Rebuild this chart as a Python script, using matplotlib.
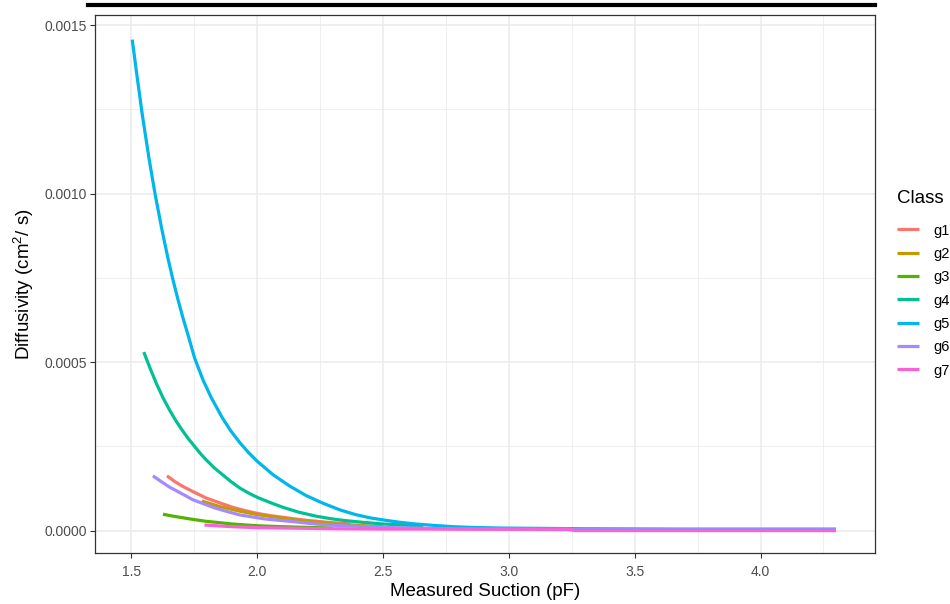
import matplotlib
matplotlib.use("Agg")
from matplotlib import pyplot as plt
from matplotlib.lines import Line2D

plt.rcParams['font.family'] = ['Liberation Sans', 'DejaVu Sans']
plt.rcParams['mathtext.fontset'] = 'custom'
plt.rcParams['mathtext.rm'] = 'Liberation Sans'
plt.rcParams['mathtext.it'] = 'Liberation Sans'

# diffusivity curves, values (y in 1e-4 cm^2/s)
g1_x = [1.641, 1.67, 1.70, 1.75, 1.797, 1.85, 1.90, 1.95, 1.996, 2.05, 2.10, 2.15, 2.195, 2.28, 2.37]
g1_y = [1.63, 1.47, 1.33, 1.14, 0.97, 0.83, 0.70, 0.60, 0.52, 0.45, 0.40, 0.35, 0.31, 0.25, 0.20]

g2_x = [1.78, 1.85, 1.93, 2.00, 2.10, 2.20, 2.30, 2.40, 2.50]
g2_y = [0.88, 0.72, 0.58, 0.48, 0.37, 0.28, 0.21, 0.16, 0.12]

g3_x = [1.625, 1.66, 1.70, 1.75, 1.797, 1.85, 1.90, 1.996, 2.10, 2.20, 2.30]
g3_y = [0.49, 0.44, 0.39, 0.33, 0.28, 0.24, 0.20, 0.15, 0.12, 0.10, 0.08]

g4_x = [1.549, 1.575, 1.60, 1.625, 1.65, 1.675, 1.70, 1.725, 1.751, 1.775, 1.80, 1.83,
        1.864, 1.895, 1.93, 1.965, 2.00, 2.05, 2.10, 2.165, 2.235, 2.29, 2.35, 2.42,
        2.50, 2.58, 2.66]
g4_y = [5.30, 4.80, 4.35, 3.95, 3.60, 3.28, 3.00, 2.74, 2.50, 2.28, 2.08, 1.86,
        1.65, 1.46, 1.27, 1.12, 0.99, 0.84, 0.70, 0.55, 0.43, 0.36, 0.30, 0.25,
        0.20, 0.17, 0.14]

g5_x = [1.503, 1.52, 1.543, 1.57, 1.594, 1.621, 1.645, 1.665, 1.685, 1.704, 1.727, 1.751,
        1.785, 1.817, 1.861, 1.895, 1.93, 1.965, 2.00, 2.063, 2.13, 2.195, 2.26, 2.328,
        2.39, 2.45, 2.51, 2.567, 2.63, 2.70, 2.78, 2.85, 2.97, 3.30, 3.70, 4.00, 4.30]
g5_y = [14.57, 13.6, 12.34, 11.03, 9.98, 8.93, 8.08, 7.44, 6.85, 6.33, 5.75, 5.12,
        4.46, 3.95, 3.35, 2.96, 2.62, 2.32, 2.06, 1.66, 1.32, 1.04, 0.82, 0.62,
        0.48, 0.38, 0.31, 0.25, 0.20, 0.16, 0.12, 0.10, 0.08, 0.06, 0.05, 0.05, 0.05]

g6_x = [1.585, 1.62, 1.65, 1.70, 1.744, 1.79, 1.83, 1.88, 1.93, 2.03, 2.129, 2.23,
        2.328, 2.50, 2.80, 3.25, 3.70, 4.30]
g6_y = [1.63, 1.45, 1.30, 1.10, 0.92, 0.79, 0.68, 0.57, 0.47, 0.35, 0.28, 0.20,
        0.15, 0.10, 0.05, 0.03, 0.03, 0.03]

g7_x = [1.79, 1.90, 2.00, 2.10, 2.30, 2.50, 3.00, 3.24, 3.26, 3.70, 4.30]
g7_y = [0.17, 0.12, 0.09, 0.08, 0.06, 0.05, 0.05, 0.05, 0.005, 0.005, 0.005]

classes = ['g1', 'g2', 'g3', 'g4', 'g5', 'g6', 'g7']
colors = ['#F8766D', '#C49A00', '#53B400', '#00C094', '#00B6EB', '#A58AFF', '#FB61D7']
series = [(g1_x, g1_y), (g2_x, g2_y), (g3_x, g3_y), (g4_x, g4_y),
          (g5_x, g5_y), (g6_x, g6_y), (g7_x, g7_y)]

x_ticks = [1.5, 2.0, 2.5, 3.0, 3.5, 4.0]
y_ticks = [0.0, 0.0005, 0.0010, 0.0015]
y_labels = ['0.0000', '0.0005', '0.0010', '0.0015']

fig = plt.figure(figsize=(9.5, 6.04), dpi=100)
ax = fig.add_axes([95 / 950, 51 / 604, 780 / 950, 538 / 604])

for name, col, (xs, ys) in zip(classes, colors, series):
    ax.plot(xs, [v * 1e-4 for v in ys], color=col, lw=2.3, label=name,
            solid_capstyle='butt', solid_joinstyle='round', zorder=3)

ax.set_xlim(1.355, 4.455)
ax.set_ylim(-0.000066, 0.00153)
ax.set_xticks(x_ticks)
ax.set_xticklabels([f'{t:.1f}' for t in x_ticks])
ax.set_yticks(y_ticks)
ax.set_yticklabels(y_labels)
ax.set_xticks([1.75, 2.25, 2.75, 3.25, 3.75, 4.25], minor=True)
ax.set_yticks([0.00025, 0.00075, 0.00125], minor=True)
ax.grid(which='major', color='#EBEBEB', lw=1.1, zorder=0)
ax.grid(which='minor', color='#EBEBEB', lw=0.55, zorder=0)
ax.tick_params(which='minor', length=0)
ax.tick_params(which='major', length=3.5, width=0.8, color='#333333',
               labelcolor='#4D4D4D', labelsize=10)
ax.tick_params(axis='x', pad=5)
ax.tick_params(axis='y', pad=2.5)
for sp in ax.spines.values():
    sp.set_color('#333333')
    sp.set_linewidth(0.9)

ax.set_xlabel('Measured Suction (pF)', fontsize=13.5, labelpad=3)
ax.set_ylabel('Diffusivity (cm$^{2}$/ s)', fontsize=13.5, labelpad=6)

# black bar above the panel
fig.add_artist(Line2D([88 / 950, 875 / 950], [1 - 5 / 604, 1 - 5 / 604],
                      color='black', lw=3, transform=fig.transFigure))

handles, labels = ax.get_legend_handles_labels()
leg = fig.legend(handles, labels, title='Class', loc='upper left',
                 bbox_to_anchor=(891 / 950, 1 - 184 / 604), frameon=False,
                 fontsize=10.5, title_fontsize=13.5, handlelength=1.5,
                 handletextpad=1.0, labelspacing=0.64, borderaxespad=0)
leg._legend_box.align = 'left'
leg._legend_box.sep = 12

fig.savefig('out.png', dpi=100)
